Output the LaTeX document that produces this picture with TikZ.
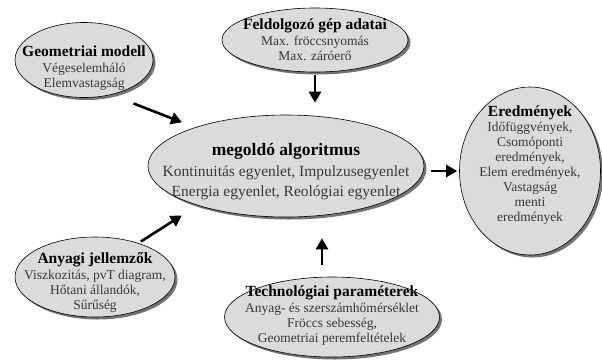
\documentclass[tikz,border=0pt]{standalone}
\usepackage{fontspec}
\setmainfont{Liberation Serif}
\usetikzlibrary{shapes.geometric,shadows,arrows.meta}

\tikzset{
  blob/.style={ellipse, draw=black, line width=0.6pt, fill=black!14, inner sep=0pt,
    drop shadow={shadow xshift=2.5pt, shadow yshift=-2.5pt, fill=black!55, opacity=1}},
  txt/.style={align=center, text=black!78, inner sep=0pt,
    font=\fontsize{13.5}{15}\selectfont},
  bigtxt/.style={txt, font=\fontsize{15.5}{20}\selectfont},
  arr/.style={line width=2.6pt, -{Triangle[length=11pt,width=12pt]}},
}
\newcommand{\ttl}[1]{{\color{black}\bfseries\fontsize{15.5}{17}\selectfont #1}}
\newcommand{\bigttl}[1]{{\color{black}\bfseries\fontsize{17.5}{20}\selectfont #1}}

\begin{document}
\begin{tikzpicture}[x=1pt, y=-1pt]
	%%%%% START %%%%%
	\useasboundingbox (0,0) rectangle (602,360);
	
	\node[blob, minimum width=138pt, minimum height=75pt] (geo) at (84,60) {};
	\node[txt] (geo-t) at (84,68) {\ttl{Geometriai modell}\\[1pt] Végeselemháló\\ Elemvastagság};
	
	\node[blob, minimum width=186pt, minimum height=64pt] (feld) at (315,40) {};
	\node[txt] (feld-t) at (315,40) {\ttl{Feldolgozó gép adatai}\\[1pt] Max. fröccsnyomás\\ Max. záróerő};
	
	\node[blob, minimum width=276pt, minimum height=102pt] (alg) at (286,166) {};
	\node[bigtxt] (alg-t) at (286,172) {\bigttl{megoldó algoritmus}\\[1pt] Kontinuitás egyenlet, Impulzusegyenlet\\ Energia egyenlet, Reológiai egyenlet};
	
	\node[blob, minimum width=141pt, minimum height=168pt] (ered) at (530,171) {};
	\node[txt] (ered-t) at (530,165) {\ttl{Eredmények}\\ Időfüggvények,\\ Csomóponti\\ eredmények,\\ Elem eredmények,\\ Vastagság\\ menti\\ eredmények};
	
	\node[blob, minimum width=160pt, minimum height=80pt] (any) at (95,277) {};
	\node[txt] (any-t) at (95,282) {\ttl{Anyagi jellemzők}\\[1pt] Viszkozitás, pvT diagram,\\ Hőtani állandók,\\ Sűrűség};
	
	\node[blob, minimum width=215pt, minimum height=80pt] (tech) at (332,317) {};
	\node[txt] (tech-t) at (332,316) {\ttl{Technológiai paraméterek}\\[1pt] Anyag- és szerszámhőmérséklet\\ Fröccs sebesség,\\ Geometriai peremfeltételek};
	
	\draw[arr, shorten <=24pt, shorten >=14pt] (geo.-52) -- (alg.157);
	\draw[arr, shorten <=3pt, shorten >=12pt] (feld.south) -- (feld.south |- alg.north);
	\draw[arr, shorten <=3pt, shorten >=18.6pt] (any.38) -- (alg.204);
	\draw[arr, shorten <=12pt, shorten >=21pt] ([xshift=-10pt]tech.north) -- ([xshift=-10pt]tech.north |- alg.south);
	\draw[arr, shorten <=7pt, shorten >=2pt] (alg.east |- ered.west) -- (ered.west);
	%%%%% END %%%%%
\end{tikzpicture}
\end{document}
